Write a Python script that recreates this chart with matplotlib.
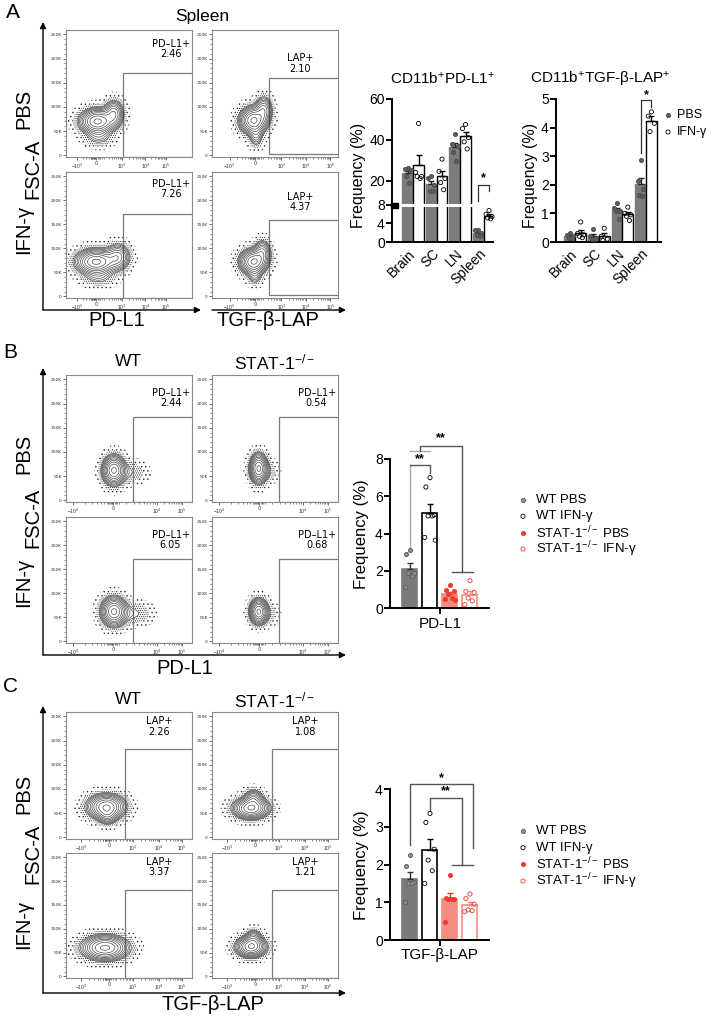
import numpy as np
import matplotlib
matplotlib.use('Agg')
import matplotlib.pyplot as plt
from matplotlib.patches import Rectangle

W, H = 712, 1016
plt.rcParams['font.family'] = ['Liberation Sans', 'DejaVu Sans']
plt.rcParams['mathtext.fontset'] = 'custom'
plt.rcParams['mathtext.rm'] = 'Liberation Sans'
plt.rcParams['mathtext.it'] = 'Liberation Sans:italic'
plt.rcParams['mathtext.bf'] = 'Liberation Sans:bold'
plt.rcParams['hatch.color'] = '#2a2a2a'
plt.rcParams['hatch.linewidth'] = 0.5

# ---------------- data ----------------
sites = ['Brain', 'SC', 'LN', 'Spleen']
pdl1_pbs = [[26, 25.5, 25, 22, 19], [22, 21, 18, 15, 15], [43, 38, 37, 34, 29.5], [2.6, 2.5, 2.0, 1.5, 1.2]]
pdl1_ifn = [[48, 24, 22, 22, 21], [30.5, 24.5, 21, 19, 15.5], [47.5, 45.5, 41, 39, 35.5], [6.8, 6.0, 5.5, 5.2, 5.0]]
lap_pbs = [[0.3, 0.25, 0.2, 0.15, 0.15], [0.45, 0.2, 0.15, 0.1, 0.1], [1.35, 1.2, 1.1, 1.1, 0.8], [2.85, 2.15, 1.85, 1.65, 1.6]]
lap_ifn = [[0.7, 0.3, 0.25, 0.2, 0.15], [0.48, 0.2, 0.1, 0.05], [1.22, 1.0, 0.95, 0.9, 0.75], [4.55, 4.4, 4.15, 3.86]]

groups = ['WT PBS', 'WT IFN-γ', r'STAT-1$^{-/-}$ PBS', r'STAT-1$^{-/-}$ IFN-γ']
pdl1_b = [[3.1, 2.9, 1.9, 1.9, 1.75, 1.15], [7.0, 6.5, 5.0, 4.95, 4.95, 3.8, 3.65],
          [1.25, 1.0, 0.95, 0.75, 0.55, 0.5, 0.45], [1.48, 0.9, 0.85, 0.55, 0.4, 0.2]]
lap_c = [[2.25, 1.97, 1.55, 1.5, 1.5, 1.02], [3.36, 3.12, 2.41, 2.12, 1.84, 1.5],
         [1.72, 1.12, 1.1, 1.1, 1.08, 0.48], [1.22, 1.1, 0.95, 0.8, 0.78, 0.75]]

flow_pct_A = [['2.46', '2.10'], ['7.26', '4.37']]
flow_pct_B = [['2.44', '0.54'], ['6.05', '0.68']]
flow_pct_C = [['2.26', '1.08'], ['3.37', '1.21']]

# population shapes (center x, center y [K], spread x, spread y [K], weight)
popA = [[[(0.25, 70, 0.07, 13, 1.0), (0.38, 86, 0.04, 14, 0.5), (0.26, 38, 0.06, 10, 0.12)],
         [(0.33, 72, 0.055, 14, 1.0), (0.41, 94, 0.035, 14, 0.45), (0.35, 40, 0.03, 12, 0.2)]],
        [[(0.24, 72, 0.08, 13, 1.0), (0.41, 82, 0.05, 14, 0.45), (0.26, 40, 0.07, 10, 0.1)],
         [(0.33, 72, 0.055, 13, 1.0), (0.40, 92, 0.035, 13, 0.4), (0.34, 42, 0.03, 10, 0.15)]]]
popB = [[[(0.38, 62, 0.045, 15, 1.0), (0.50, 58, 0.07, 12, 0.07)],
         [(0.37, 66, 0.035, 15, 1.0), (0.42, 60, 0.05, 12, 0.08)]],
        [[(0.38, 62, 0.05, 15, 1.0), (0.52, 58, 0.08, 12, 0.09)],
         [(0.37, 62, 0.035, 13, 1.0), (0.42, 58, 0.05, 12, 0.08)]]]
popC = [[[(0.32, 63, 0.075, 13, 1.0), (0.33, 45, 0.04, 10, 0.3)],
         [(0.31, 60, 0.07, 11, 1.0), (0.33, 80, 0.04, 10, 0.35)]],
        [[(0.31, 60, 0.09, 13, 1.0)],
         [(0.31, 62, 0.06, 11, 1.0), (0.33, 80, 0.035, 10, 0.3)]]]

fig = plt.figure(figsize=(W / 100, H / 100), dpi=100)


def rect_px(x0, y0, x1, y1):
    return [x0 / W, 1 - y1 / H, (x1 - x0) / W, (y1 - y0) / H]


ov = fig.add_axes([0, 0, 1, 1])
ov.set_xlim(0, W)
ov.set_ylim(H, 0)
ov.axis('off')
ov.set_zorder(10)

# ---------------- flow plots ----------------
XS = np.linspace(-0.05, 1.05, 260)
YS = np.linspace(-10, 270, 260)
GX, GY = np.meshgrid(XS, YS)


def minor_positions(pos, labels):
    out = []
    for a, b in zip(pos[:-1], pos[1:]):
        for k in range(2, 10):
            out.append(a + (b - a) * np.log10(k))
    zi = labels.index('0')
    z = pos[zi]
    for d in [0.012, 0.02, 0.03, 0.045]:
        out += [z - d, z + d]
    return out


def flow_plot(rect, comps, tpos, tlab, gate_x, gate_top, gate_bot, gname, pct, txy):
    ax = fig.add_axes(rect)
    Z = np.zeros_like(GX)
    for cx, cy, sx, sy, w in comps:
        Z += w * np.exp(-0.5 * (((GX - cx) / sx) ** 2 + ((GY - cy) / sy) ** 2))
    zm = Z.max()
    ax.contourf(GX, GY, Z, levels=[zm * 0.0025, zm * 0.02, zm * 0.07], colors='none',
                hatches=['....', '........'])
    ax.contour(GX, GY, Z, levels=zm * np.geomspace(0.07, 0.92, 10), colors='#3a3a3a',
               linewidths=0.45)
    ax.add_patch(Rectangle((gate_x, gate_bot), 1.2, gate_top - gate_bot, fill=False,
                           ec='#7a7a7a', lw=0.9))
    ax.text(txy[0], txy[1], f'{gname}\n{pct}', ha='center', va='center', fontsize=7,
            family='DejaVu Sans', linespacing=1.05)
    ax.set_xlim(0, 1)
    ax.set_ylim(-3.5, 259)
    ax.set_yticks([0, 50, 100, 150, 200, 250])
    ax.set_yticklabels(['0', '50K', '100K', '150K', '200K', '250K'], fontsize=3.2,
                       family='DejaVu Sans')
    ax.set_yticks(np.arange(0, 251, 10), minor=True)
    ax.set_xticks(tpos)
    ax.set_xticklabels(tlab, fontsize=3.6, family='DejaVu Sans')
    ax.set_xticks(minor_positions(tpos, tlab), minor=True)
    ax.tick_params(which='major', length=2.2, width=0.5, pad=1, colors='#333')
    ax.tick_params(which='minor', length=1.1, width=0.4, colors='#333')
    for s in ax.spines.values():
        s.set_color('#8a8a8a')
        s.set_linewidth(0.8)
    return ax


labA0 = ['$-10^3$', '0', '$10^3$', '$10^4$', '$10^5$']
labB = ['$-10^4$', '0', '$10^4$', '$10^5$']
posA0 = [0.09, 0.24, 0.445, 0.63, 0.79]
posA1 = [0.14, 0.345, 0.55, 0.745, 0.94]
posB = [0.055, 0.376, 0.72, 0.92]
posC = [0.12, 0.34, 0.53, 0.74, 0.92]

colx = [(66, 192), (212, 338)]
rowsA = [(30, 157), (172, 298)]
rowsB = [(375, 502), (517, 643)]
rowsC = [(712, 839), (853, 978)]

for r in range(2):
    for c in range(2):
        rc = rect_px(colx[c][0], rowsA[r][0], colx[c][1], rowsA[r][1])
        if c == 0:
            flow_plot(rc, popA[r][c], posA0, labA0, 0.45, 170.5, -3.5, 'PD\u2013L1+',
                      flow_pct_A[r][c], (0.83, 220 + 4 * r))
        else:
            flow_plot(rc, popA[r][c], posA1, labA0, 0.45, 159, 2, 'LAP+',
                      flow_pct_A[r][c], (0.70, 190 + 7 * r))
        rc = rect_px(colx[c][0], rowsB[r][0], colx[c][1], rowsB[r][1])
        flow_plot(rc, popB[r][c], posB, labB, 0.53, 172, -3.5, 'PD\u2013L1+',
                  flow_pct_B[r][c], (0.83, 211))
        rc = rect_px(colx[c][0], rowsC[r][0], colx[c][1], rowsC[r][1])
        flow_plot(rc, popC[r][c], posC, labA0, 0.47 + 0.006 * c, 182, -3.5, 'LAP+',
                  flow_pct_C[r][c], (0.74, 229))

# outer axes arrows for flow panels
arrow_kw = dict(arrowstyle='-|>', color='black', lw=1.0, mutation_scale=9, shrinkA=0, shrinkB=0)


def arrow(x0, y0, x1, y1):
    ov.annotate('', xy=(x1, y1), xytext=(x0, y0), arrowprops=arrow_kw)


arrow(43, 310, 43, 22)
arrow(43, 310, 201, 310)
arrow(212, 310, 346, 310)
arrow(43, 655, 43, 368)
arrow(43, 655, 346, 655)
arrow(43, 993, 43, 706)
arrow(43, 993, 346, 993)

big = 14.5
for (yp, yf, yi) in [(109, 169, 229), (454, 518, 582), (794, 854, 924)]:
    ov.text(24, yp, 'PBS', rotation=90, ha='center', va='center', fontsize=big)
    ov.text(33, yf, 'FSC-A', rotation=90, ha='center', va='center', fontsize=big)
    ov.text(24, yi, 'IFN-γ', rotation=90, ha='center', va='center', fontsize=big)

ov.text(117, 321, 'PD-L1', ha='center', va='center', fontsize=big)
ov.text(268, 321, 'TGF-β-LAP', ha='center', va='center', fontsize=big)
ov.text(185, 668, 'PD-L1', ha='center', va='center', fontsize=big)
ov.text(213, 1005, 'TGF-β-LAP', ha='center', va='center', fontsize=big)

ov.text(202, 17, 'Spleen', ha='center', va='center', fontsize=12.5)
for yy in (362, 700):
    ov.text(128, yy, 'WT', ha='center', va='center', fontsize=12.5)
    ov.text(275, yy, r'STAT-1$^{-/-}$', ha='center', va='center', fontsize=12.5)

for lab, (xx, yy) in zip('ABC', [(13, 12), (10, 352), (10, 687)]):
    ov.text(xx, yy, lab, ha='center', va='center', fontsize=15)

# ---------------- bar charts ----------------
GRAY = '#7b7b7b'
GRAY_PT = '#8f8f8f'
SALMON = '#f58c80'
RED = '#ee3b30'
JIT = np.array([0.0, -0.55, 0.55, -0.25, 0.3, -0.7, 0.7])
MS = 9


def style(ax):
    for s in ['top', 'right']:
        ax.spines[s].set_visible(False)
    for s in ['left', 'bottom']:
        ax.spines[s].set_linewidth(1.4)
    ax.tick_params(axis='y', direction='out', length=4, width=1.4, labelsize=10, pad=1.2)


def draw_group(ax, xc, vals, width, face, edge, ecol, pfc, pec, lw=1.0):
    v = np.asarray(vals, float)
    m = v.mean()
    se = v.std(ddof=1) / np.sqrt(len(v))
    ax.bar(xc, m, width=width, color=face, edgecolor=edge, linewidth=lw, zorder=2)
    ax.errorbar(xc, m, yerr=[[0], [se]], fmt='none', ecolor=ecol, elinewidth=1.0,
                capsize=2.3, capthick=1.0, zorder=3)
    off = JIT[:len(v)] * width * 0.5
    ax.scatter(xc + off, v, s=MS, facecolors=pfc, edgecolors=pec, linewidths=0.6, zorder=4,
               clip_on=False)


K = 2.27


def fwd(y):
    y = np.asarray(y, float)
    return np.where(y <= 8, y * K, 8 * K + (y - 8))


def inv(t):
    t = np.asarray(t, float)
    return np.where(t <= 8 * K, t / K, t - 8 * K + 8)


def site_chart(rect, pbs, ifn, xlim, ylim, yticks):
    ax = fig.add_axes(rect)
    style(ax)
    bw = 0.46
    for i in range(len(sites)):
        draw_group(ax, i - bw / 2, pbs[i], bw, GRAY, GRAY, '#222', '#5f5f5f', '#4a4a4a')
        draw_group(ax, i + bw / 2, ifn[i], bw, 'white', 'black', 'black', 'none', 'black')
    ax.set_xlim(*xlim)
    ax.set_ylim(*ylim)
    ax.set_yticks(yticks)
    ax.set_xticks(range(len(sites)))
    ax.set_xticklabels(sites, rotation=45, ha='right', va='center', rotation_mode='anchor',
                       fontsize=10)
    ax.tick_params(axis='x', length=0, pad=7)
    return ax


axL = site_chart(rect_px(392, 99, 493, 242), pdl1_pbs, pdl1_ifn, (-0.9, 3.4), (0, 60),
                 [0, 4, 8, 20, 40, 60])
axL.set_yscale('function', functions=(fwd, inv))
axL.set_ylim(0, 60)
axL.set_yticks([0, 4, 8, 20, 40, 60])
axL.set_yticklabels(['0', '4', '8', '20', '40', '60'])
axL.axhline(8, color='white', lw=2.2, zorder=5)
ov.add_patch(Rectangle((391, 202.5), 7, 5, color='black', zorder=6))
axL.plot([3 - 0.23, 3 - 0.23, 3 + 0.23, 3 + 0.23], [10, 17.9, 17.9, 14.7], color='#333',
         lw=0.9, clip_on=False)
axL.text(3, 21.0, '*', ha='center', va='center', fontsize=9, fontweight='bold')

axR = site_chart(rect_px(556, 99, 661, 242), lap_pbs, lap_ifn, (-0.82, 3.64), (0, 5),
                 [0, 1, 2, 3, 4, 5])
axR.plot([3 - 0.23, 3 - 0.23, 3 + 0.23, 3 + 0.23], [3.1, 4.97, 4.97, 4.73], color='#333',
         lw=0.9, clip_on=False)
axR.text(3, 5.12, '*', ha='center', va='center', fontsize=9, fontweight='bold',
         clip_on=False)

ov.text(443, 79, r'CD11b$^{+}$PD-L1$^{+}$', ha='center', va='center', fontsize=11)
ov.text(600, 79, r'CD11b$^{+}$TGF-β-LAP$^{+}$', ha='center', va='center', fontsize=11)
ov.text(359, 175, 'Frequency (%)', rotation=90, ha='center', va='center', fontsize=11.5)
ov.text(530, 175, 'Frequency (%)', rotation=90, ha='center', va='center', fontsize=11.5)

ov.scatter([668], [115], s=MS, facecolors='#5f5f5f', edgecolors='#4a4a4a', linewidths=0.6)
ov.scatter([668], [132], s=MS, facecolors='none', edgecolors='black', linewidths=0.6)
ov.text(677, 115, 'PBS', ha='left', va='center', fontsize=9)
ov.text(677, 132, 'IFN-γ', ha='left', va='center', fontsize=9)

faces = [GRAY, 'white', SALMON, 'white']
edges = [GRAY, 'black', SALMON, SALMON]
ecols = ['#333', 'black', RED, SALMON]
pfcs = [GRAY_PT, 'none', RED, 'none']
pecs = ['#5a5a5a', 'black', RED, RED]


def group_chart(rect, data, ymax, yticks, xlabel):
    ax = fig.add_axes(rect)
    style(ax)
    for i, vals in enumerate(data):
        draw_group(ax, i, vals, 0.75, faces[i], edges[i], ecols[i], pfcs[i], pecs[i], lw=1.2)
    ax.set_xlim(-1, 3.95)
    ax.set_ylim(0, ymax)
    ax.set_yticks(yticks)
    ax.set_xticks([1.5])
    ax.set_xticklabels([xlabel], fontsize=11)
    ax.tick_params(axis='x', length=4, width=1.4, pad=2)
    return ax


axB = group_chart(rect_px(390, 459, 489, 608.3), pdl1_b, 8, [0, 2, 4, 6, 8], 'PD-L1')
kw = dict(lw=1.0, clip_on=False)
axB.plot([0, 0], [3.3, 7.68], color='#aaaaaa', **kw)
axB.plot([0, 1, 1], [7.68, 7.68, 7.27], color='#555', **kw)
axB.text(0.5, 8.0, '**', ha='center', va='center', fontsize=9, fontweight='bold')
axB.plot([0, 1], [8.45, 8.45], color='#aaaaaa', **kw)
axB.plot([0.5, 0.5, 2.6, 2.6], [8.45, 8.72, 8.72, 1.96], color='#555', **kw)
axB.plot([2.08, 3.13], [1.96, 1.96], color='#555', **kw)
axB.text(1.55, 9.13, '**', ha='center', va='center', fontsize=9, fontweight='bold')
axB.set_ylabel('Frequency (%)', fontsize=12, labelpad=4)

axC = group_chart(rect_px(390, 789.3, 489, 940), lap_c, 4, [0, 1, 2, 3, 4], 'TGF-β-LAP')
axC.plot([0, 0, 3.13, 3.13], [2.52, 4.13, 4.13, 2.43], color='#555', **kw)
axC.text(1.55, 4.3, '*', ha='center', va='center', fontsize=9, fontweight='bold')
axC.plot([1, 1, 2.6, 2.6], [3.43, 3.78, 3.78, 2.0], color='#555', **kw)
axC.plot([2.08, 3.13], [2.0, 2.0], color='#555', **kw)
axC.text(1.8, 3.95, '**', ha='center', va='center', fontsize=9, fontweight='bold')
axC.set_ylabel('Frequency (%)', fontsize=12, labelpad=4)

for ys in ([500, 516.3, 532.7, 549], [831, 847.7, 864.3, 881]):
    for i in range(4):
        ov.scatter([523], [ys[i]], s=MS, facecolors=pfcs[i], edgecolors=pecs[i], linewidths=0.6)
        ov.text(536, ys[i], groups[i], ha='left', va='center', fontsize=9.5)

fig.savefig('out.png', dpi=100)
